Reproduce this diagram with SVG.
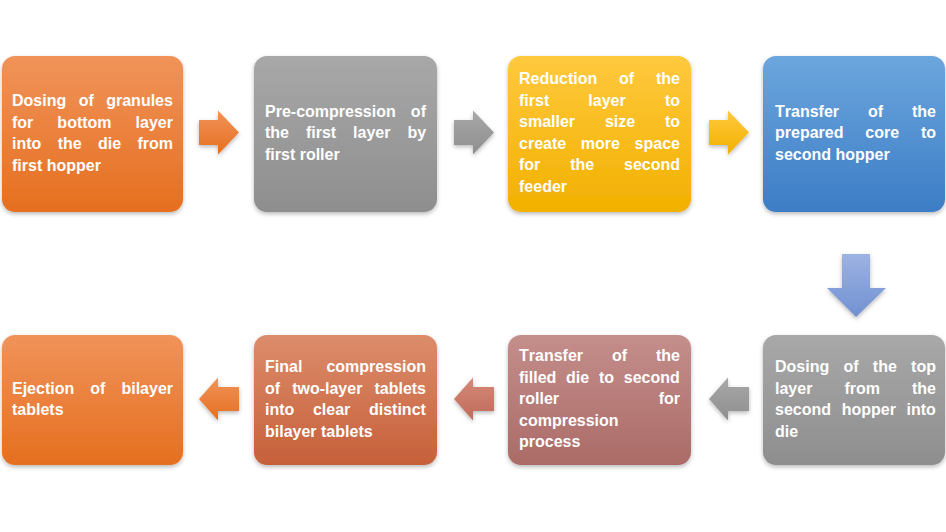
<svg xmlns="http://www.w3.org/2000/svg" width="946" height="532" viewBox="0 0 946 532">
<defs>
<linearGradient id="gOrange" x1="0" y1="0" x2="0" y2="1"><stop offset="0" stop-color="#F0935A"/><stop offset="1" stop-color="#E66F1F"/></linearGradient>
<linearGradient id="gGray" x1="0" y1="0" x2="0" y2="1"><stop offset="0" stop-color="#A8A8A8"/><stop offset="1" stop-color="#8E8E8E"/></linearGradient>
<linearGradient id="gYellow" x1="0" y1="0" x2="0" y2="1"><stop offset="0" stop-color="#FFC93E"/><stop offset="1" stop-color="#F2B000"/></linearGradient>
<linearGradient id="gBlue" x1="0" y1="0" x2="0" y2="1"><stop offset="0" stop-color="#6CA6DE"/><stop offset="1" stop-color="#3C7DC5"/></linearGradient>
<linearGradient id="gRose" x1="0" y1="0" x2="0" y2="1"><stop offset="0" stop-color="#C48E8B"/><stop offset="1" stop-color="#AB6B67"/></linearGradient>
<linearGradient id="gBrick" x1="0" y1="0" x2="0" y2="1"><stop offset="0" stop-color="#DC8C6B"/><stop offset="1" stop-color="#C6603A"/></linearGradient>
<linearGradient id="gPeri" x1="0" y1="0" x2="0" y2="1"><stop offset="0" stop-color="#9DB2E2"/><stop offset="1" stop-color="#7191D2"/></linearGradient>
<linearGradient id="gSalmon" x1="0" y1="0" x2="0" y2="1"><stop offset="0" stop-color="#D58A78"/><stop offset="1" stop-color="#C06A5A"/></linearGradient>
<filter id="sh" x="-10%" y="-10%" width="120%" height="125%">
<feDropShadow dx="0" dy="2" stdDeviation="2" flood-color="#000" flood-opacity="0.28"/>
</filter>
</defs>
<style>
.box{filter:url(#sh);}
.t{font-family:"Liberation Sans",Arial,sans-serif;font-weight:bold;font-size:16px;fill:#FFFFFF;font-kerning:none;}
.arr{filter:url(#sh);}
</style>
<rect width="946" height="532" fill="#FFFFFF"/>

<g id="connectors">
<path class="arr" fill="url(#gOrange)" d="M199,120 H218 V110.5 L239,132.5 L218,154.5 V145 H199 Z"/>
<path class="arr" fill="url(#gGray)" d="M454,120 H473 V110.5 L494,132.5 L473,154.5 V145 H454 Z"/>
<path class="arr" fill="url(#gYellow)" d="M709,120 H728 V110.5 L749,132.5 L728,154.5 V145 H709 Z"/>
<path class="arr" fill="url(#gPeri)" d="M842,254 H870 V288 H886 L856,317 L827,288 H842 Z"/>
<path class="arr" fill="url(#gGray)" d="M749,387 H728 V377.5 L709,399 L728,420.5 V411 H749 Z"/>
<path class="arr" fill="url(#gSalmon)" d="M494,387 H473 V377.5 L454,399 L473,420.5 V411 H494 Z"/>
<path class="arr" fill="url(#gOrange)" d="M239,387 H218 V377.5 L199,399 L218,420.5 V411 H239 Z"/>
</g>

<g id="node1">
<rect class="box" x="2" y="56" width="181" height="156" rx="13" fill="url(#gOrange)"/>
<text class="t"><tspan x="12" y="106" word-spacing="8">Dosing of granules</tspan><tspan x="12" y="127.5" word-spacing="19.6">for bottom layer</tspan><tspan x="12" y="149" word-spacing="11.9">into the die from</tspan><tspan x="12" y="170.5">first hopper</tspan></text>
</g>

<g id="node2">
<rect class="box" x="254" y="56" width="183" height="156" rx="13" fill="url(#gGray)"/>
<text class="t"><tspan x="265" y="116.5" word-spacing="10.7">Pre-compression of</tspan><tspan x="265" y="138" word-spacing="12.5">the first layer by</tspan><tspan x="265" y="159.5">first roller</tspan></text>
</g>

<g id="node3">
<rect class="box" x="508" y="56" width="183" height="156" rx="13" fill="url(#gYellow)"/>
<text class="t"><tspan x="519" y="84" word-spacing="17.4">Reduction of the</tspan><tspan x="519" y="105.5" word-spacing="34.7">first layer to</tspan><tspan x="519" y="127" word-spacing="25.4">smaller size to</tspan><tspan x="519" y="148.5" word-spacing="10.2">create more space</tspan><tspan x="519" y="170" word-spacing="25.4">for the second</tspan><tspan x="519" y="191.5">feeder</tspan></text>
</g>

<g id="node4">
<rect class="box" x="763" y="56" width="182" height="156" rx="13" fill="url(#gBlue)"/>
<text class="t"><tspan x="775" y="116.5" word-spacing="24.5">Transfer of the</tspan><tspan x="775" y="138" word-spacing="17.4">prepared core to</tspan><tspan x="775" y="159.5">second hopper</tspan></text>
</g>

<g id="node5">
<rect class="box" x="763" y="335" width="182" height="130" rx="13" fill="url(#gGray)"/>
<text class="t"><tspan x="775" y="372" word-spacing="9.8">Dosing of the top</tspan><tspan x="775" y="393.5" word-spacing="27.6">layer from the</tspan><tspan x="775" y="415" word-spacing="6.2">second hopper into</tspan><tspan x="775" y="436.5">die</tspan></text>
</g>

<g id="node6">
<rect class="box" x="508" y="335" width="183" height="130" rx="13" fill="url(#gRose)"/>
<text class="t"><tspan x="519" y="361" word-spacing="24.5">Transfer of the</tspan><tspan x="519" y="382.5" word-spacing="5.3">filled die to second</tspan><tspan x="519" y="404" word-spacing="95.2">roller for</tspan><tspan x="519" y="425.5">compression</tspan><tspan x="519" y="447">process</tspan></text>
</g>

<g id="node7">
<rect class="box" x="254" y="335" width="183" height="130" rx="13" fill="url(#gBrick)"/>
<text class="t"><tspan x="265" y="372" word-spacing="19.6">Final compression</tspan><tspan x="265" y="393.5" word-spacing="7.6">of two-layer tablets</tspan><tspan x="265" y="415" word-spacing="14.2">into clear distinct</tspan><tspan x="265" y="436.5">bilayer tablets</tspan></text>
</g>

<g id="node8">
<rect class="box" x="2" y="335" width="181" height="130" rx="13" fill="url(#gOrange)"/>
<text class="t"><tspan x="12" y="393.5" word-spacing="11.6">Ejection of bilayer</tspan><tspan x="12" y="415">tablets</tspan></text>
</g>
</svg>
